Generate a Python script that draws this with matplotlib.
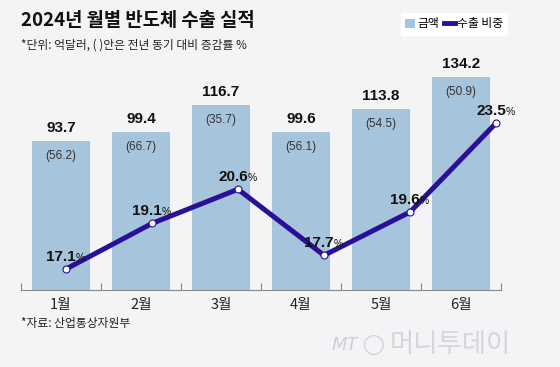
import matplotlib
matplotlib.use("Agg")
import matplotlib.pyplot as plt
from matplotlib.patches import Patch
from matplotlib.lines import Line2D
import numpy as np

months = ["1월", "2월", "3월", "4월", "5월", "6월"]
amounts = [93.7, 99.4, 116.7, 99.6, 113.8, 134.2]
yoy = ["(56.2)", "(66.7)", "(35.7)", "(56.1)", "(54.5)", "(50.9)"]
share = [17.1, 19.1, 20.6, 17.7, 19.6, 23.5]

KR = "Noto Sans CJK KR"
NUM = ["Liberation Sans", "DejaVu Sans"]
plt.rcParams['font.family'] = [KR, 'DejaVu Sans']

W, H = 560, 367
BG = "#f4f4f6"
BAR = "#a6c4dc"
LINE = "#2b0f96"

fig = plt.figure(figsize=(W / 100, H / 100), dpi=100, facecolor=BG)

def px(x, y):
    return x / W, 1 - y / H

left, right, top, bottom = 21, 501, 60, 290
pos = [left / W, 1 - bottom / H, (right - left) / W, (bottom - top) / H]

ax = fig.add_axes(pos)
ax.set_facecolor("none")
x = np.arange(len(months))
ax.bar(x, amounts, width=0.73, color=BAR, zorder=1)
ax.set_xlim(-0.5, 5.5)
ax.set_ylim(0, 144.7)
for s in ["top", "left", "right"]:
    ax.spines[s].set_visible(False)
ax.spines["bottom"].set_color("#888888")
ax.spines["bottom"].set_linewidth(0.8)
ax.set_yticks([])
ax.set_xticks(np.arange(-0.5, 6, 1.0))
ax.tick_params(axis="x", direction="in", length=5, color="#888888", width=0.8, labelbottom=False)
for i, m in enumerate(months):
    ax.annotate(m, (i, 0), xytext=(0, -15), textcoords="offset pixels",
                ha="center", va="center", fontsize=10.5, color="#222222", family=[KR])

for i, (a, p) in enumerate(zip(amounts, yoy)):
    ax.annotate(f"{a:.1f}", (i, a), xytext=(0, 13), textcoords="offset pixels",
                ha="center", va="center", fontsize=11, fontweight="bold", family=NUM, color="#111111")
    ax.annotate(p, (i, a), xytext=(0, -15), textcoords="offset pixels",
                ha="center", va="center", fontsize=8.5, family=NUM, color="#333333")

# line axes with its own x scale
ax2 = fig.add_axes(pos)
ax2.set_facecolor("none")
ax2.axis("off")
ax2.set_xlim((left - 66) / 86, (right - 66) / 86)
ax2.set_ylim(16.18, 26.27)
xi = np.arange(len(share))
ax2.plot(xi, share, color=LINE, lw=3.6, zorder=3, solid_joinstyle="miter")
ax2.plot(xi, share, ls="none", marker="o", ms=5, mfc="white", mec=LINE, mew=0.8, zorder=4)
for i, v in enumerate(share):
    ax2.annotate(f"{v:.1f}", (i, v), xytext=(10, 12), textcoords="offset pixels",
                 ha="right", va="center", fontsize=11, fontweight="bold", family=NUM, color="#111111")
    ax2.annotate("%", (i, v), xytext=(10, 11), textcoords="offset pixels",
                 ha="left", va="center", fontsize=7.5, family=NUM, color="#111111")

# titles
fig.text(*px(21, 20), "2024년 월별 반도체 수출 실적", ha="left", va="center",
         fontsize=13.5, fontweight="bold", color="#111111")
fig.text(*px(21, 45), "*단위: 억달러, ( )안은 전년 동기 대비 증감률 %", ha="left", va="center",
         fontsize=8.5, color="#222222")
fig.text(*px(21, 323), "*자료: 산업통상자원부", ha="left", va="center",
         fontsize=8.5, color="#222222")

# legend
handles = [Patch(facecolor=BAR, edgecolor="none"), Line2D([0], [0], color=LINE, lw=3.5)]
leg = fig.legend(handles, ["금액", "수출 비중"], loc="center", bbox_to_anchor=px(454, 24),
                 ncol=2, frameon=True, fancybox=False, framealpha=1, edgecolor="white",
                 facecolor="white", fontsize=8.5, handlelength=0.9, handleheight=0.9,
                 handletextpad=0.2, columnspacing=0.4, borderpad=0.35)

# watermark
fig.text(*px(345, 345), "MT", ha="center", va="center", fontsize=13, style="italic",
         color="#d0d0d4", family=["DejaVu Sans"])
fig.text(*px(374, 345), "◯", ha="center", va="center", fontsize=14, color="#d0d0d4", family=["DejaVu Sans"])
fig.text(*px(450, 345), "머니투데이", ha="center", va="center", fontsize=19,
         color="#d6d6da", fontweight="light")

fig.savefig("out.png", dpi=100, facecolor=BG)
